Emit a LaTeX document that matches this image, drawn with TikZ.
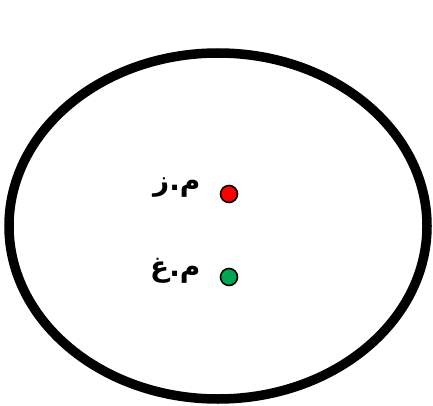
\documentclass[tikz,border=0pt]{standalone}
\usepackage{fontspec}
\newfontfamily\arabicfont[Script=Arabic,BoldFont={DejaVu Sans Bold}]{DejaVu Sans}
\TeXXeTstate=1
\usetikzlibrary{shapes.geometric}

\begin{document}
\begin{tikzpicture}[x=1pt,y=-1pt,dot/.style={circle,draw,line width=1.6pt,minimum size=17pt,inner sep=0pt},lbl/.style={anchor=east,font=\arabicfont\bfseries\fontsize{28}{30}\selectfont}]
  \useasboundingbox (0,0) rectangle (433,406);
  \node[ellipse,draw,line width=9.5pt,minimum width=418pt,minimum height=346pt,inner sep=0pt] (orbit) at (218,226) {};
  \node[dot,fill=red] (zdot) at (229,194) {};
  \node[dot,fill={rgb,255:red,0;green,166;blue,81}] (gdot) at (229,277) {};
  \node[lbl] (zlbl) at (204,188) {\beginR م.ز\endR};
  \node[lbl] (glbl) at (204,271) {\beginR م.غ\endR};
\end{tikzpicture}
\end{document}
